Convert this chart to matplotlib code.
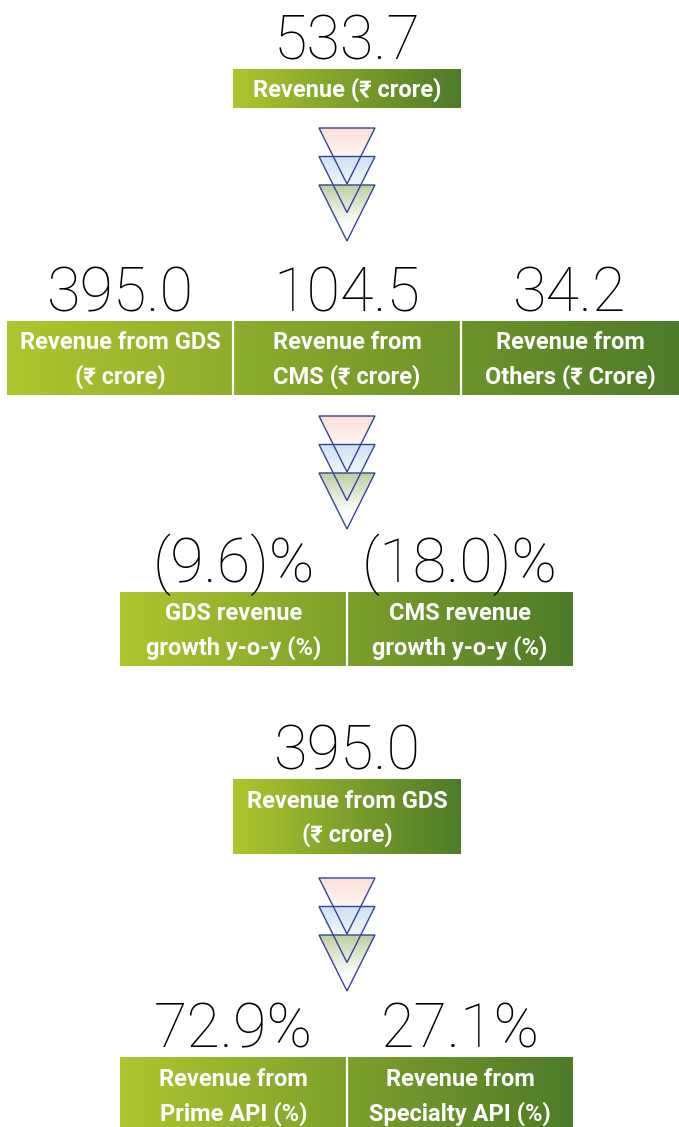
import matplotlib.pyplot as plt
import numpy as np
from matplotlib.colors import LinearSegmentedColormap, to_rgb
from matplotlib.patches import Polygon

# chart values
total_revenue = 533.7
total_label = "Revenue (₹ crore)"

segment_labels = ["Revenue from GDS\n(₹ crore)", "Revenue from\nCMS (₹ crore)", "Revenue from\nOthers (₹ Crore)"]
segment_values = [395.0, 104.5, 34.2]

growth_labels = ["GDS revenue\ngrowth y-o-y (%)", "CMS revenue\ngrowth y-o-y (%)"]
growth_values = [-9.6, -18.0]

gds_revenue = 395.0
gds_label = "Revenue from GDS\n(₹ crore)"

api_labels = ["Revenue from\nPrime API (%)", "Revenue from\nSpecialty API (%)"]
api_shares = [72.9, 27.1]

W, H = 679, 1127
fig = plt.figure(figsize=(W / 100, H / 100), dpi=100)
ax = fig.add_axes([0, 0, 1, 1])

green = LinearSegmentedColormap.from_list("grn", ["#aec62e", "#4d7b28"])
num_font = dict(family=["Roboto", "DejaVu Sans"], fontweight="light", fontsize=44, color="black")
lab_font = dict(family=["Roboto", "DejaVu Sans"], fontweight="bold", fontsize=17, color="white")


def fmt_num(v):
    return f"{v:.1f}"


def fmt_pct(v):
    return f"({abs(v):.1f})%" if v < 0 else f"{v:.1f}%"


def box_row(texts, labels, edges, y0, y1, text_y=None):
    # one row of gradient boxes with the big numbers above them
    x0, x1 = edges[0], edges[-1]
    if text_y is None:
        text_y = (y0 + y1) / 2 + 2
    grad = np.linspace(0, 1, 256).reshape(1, -1)
    ax.imshow(grad, cmap=green, extent=(x0, x1, y1, y0), aspect="auto", zorder=1)
    for i in range(len(labels)):
        cx = (edges[i] + edges[i + 1]) / 2
        if i > 0:
            ax.plot([edges[i], edges[i]], [y0, y1], color="white", lw=1.6, zorder=2)
        ax.text(cx, text_y, labels[i], ha="center", va="center",
                linespacing=1.55, zorder=3, **lab_font)
        ax.text(cx, y0 - 10, texts[i], ha="center", va="baseline", zorder=3, **num_font)


def funnel(cx, top):
    # three stacked pastel triangles
    cols = ["#fcdfd6", "#cde1f2", "#bfcfa2"]
    w, h, step = 56, 56, 28.5
    for k, c in enumerate(cols):
        t = top + k * step
        pts = [(cx - w / 2, t), (cx + w / 2, t), (cx, t + h)]
        tri = Polygon(pts, closed=True, facecolor="none", edgecolor="#34449a", lw=1.0, zorder=6)
        ax.add_patch(tri)
        rgb = np.array(to_rgb(c))
        f = np.clip(np.linspace(0, 1.4, 64), 0, 1).reshape(-1, 1, 1)
        img = rgb * (1 - f) + np.ones(3) * f
        img = np.repeat(img, 2, axis=1)
        im = ax.imshow(img, extent=(cx - w / 2, cx + w / 2, t + h, t), aspect="auto", zorder=5)
        im.set_clip_path(tri)


box_row([fmt_num(total_revenue)], [total_label], [233, 461], 69, 108, text_y=89.5)
funnel(347, 128)
box_row([fmt_num(v) for v in segment_values], segment_labels, [7, 233, 461, 679], 321, 395)
funnel(347, 416)
box_row([fmt_pct(v) for v in growth_values], growth_labels, [120, 347, 573], 592, 666)
box_row([fmt_num(gds_revenue)], [gds_label], [233, 461], 779, 854)
funnel(347, 878)
box_row([fmt_pct(v) for v in api_shares], api_labels, [120, 347, 573], 1057, 1127, text_y=1097)

ax.set_xlim(0, W)
ax.set_ylim(H, 0)
ax.axis("off")
fig.savefig("out.png", dpi=100)
